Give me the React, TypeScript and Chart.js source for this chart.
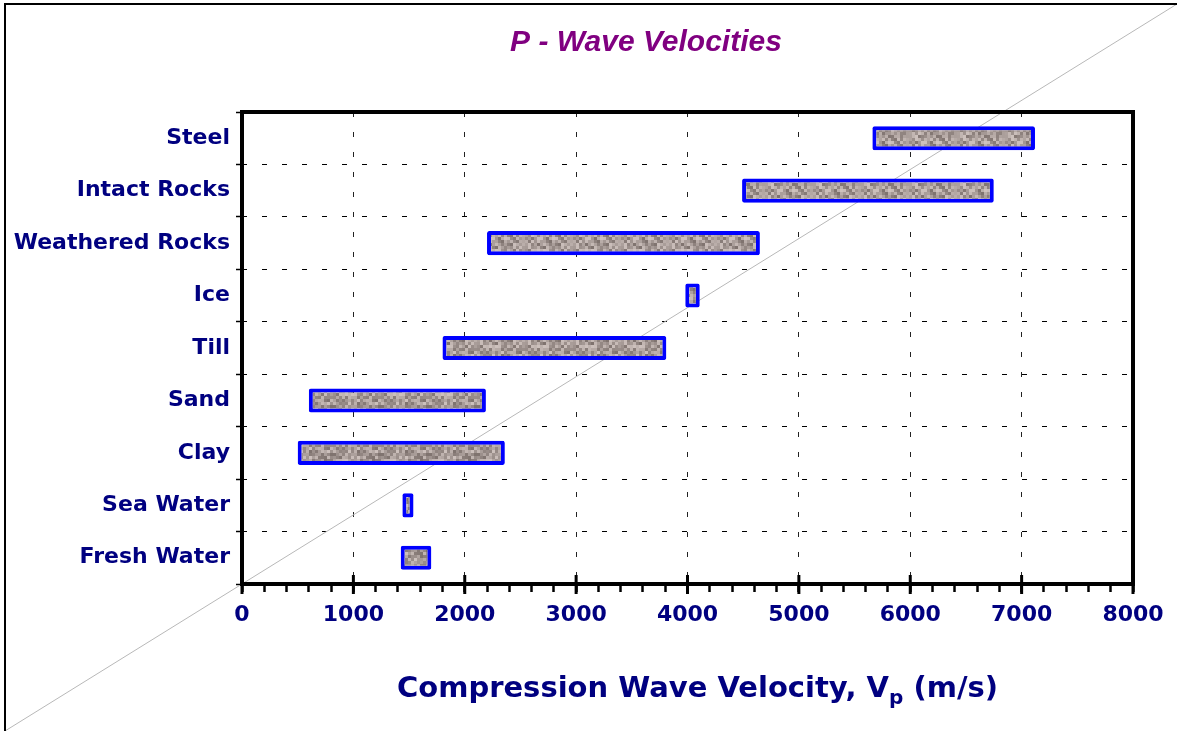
import React, { useEffect, useRef } from 'react';
import { Chart, registerables } from 'chart.js';

Chart.register(...registerables);

const categories = ['Steel', 'Intact Rocks', 'Weathered Rocks', 'Ice', 'Till', 'Sand', 'Clay', 'Sea Water', 'Fresh Water'];
const minVelocity = [5660, 4490, 2200, 3980, 1800, 600, 500, 1440, 1425];
const maxVelocity = [7120, 6750, 4650, 4110, 3810, 2190, 2360, 1540, 1700];
const xTickValues = [0, 1000, 2000, 3000, 4000, 5000, 6000, 7000, 8000];
const chartTitle = 'P - Wave Velocities';
const axisTitleMain = 'Compression Wave Velocity, V';
const axisTitleSub = 'p';
const axisTitleUnit = ' (m/s)';

const NAVY = '#000080';
const LABEL_FONT = '"DejaVu Sans", "Noto Sans", sans-serif';

function makeTexture(): CanvasPattern | string {
  const size = 48;
  const c = document.createElement('canvas');
  c.width = size;
  c.height = size;
  const g = c.getContext('2d');
  if (!g) return '#a89e98';
  for (let y = 0; y < size; y += 3) {
    for (let x = 0; x < size; x += 3) {
      let h = (Math.imul(x + 7, 374761393) + Math.imul(y + 3, 668265263)) | 0;
      h = Math.imul(h ^ (h >>> 13), 1274126177);
      h = (h ^ (h >>> 16)) >>> 0;
      const v = (h % 1000) / 1000;
      const d = Math.round((v - 0.5) * 80);
      g.fillStyle = `rgb(${166 + d},${154 + d},${150 + d})`;
      g.fillRect(x, y, 3, 3);
    }
  }
  return g.createPattern(c, 'repeat') ?? '#a89e98';
}

const decorPlugin = {
  id: 'decor',
  beforeDatasetsDraw(chart: any) {
    const { ctx, width, height } = chart;
    ctx.save();
    ctx.strokeStyle = '#b8b8b8';
    ctx.lineWidth = 1;
    ctx.beginPath();
    ctx.moveTo(5, height);
    ctx.lineTo(width, 4);
    ctx.stroke();
    ctx.restore();
  },
  afterDraw(chart: any) {
    const { ctx, chartArea: a, scales, width, height } = chart;
    const xs = scales.x;
    ctx.save();
    // outer frame
    ctx.strokeStyle = '#000';
    ctx.lineWidth = 2;
    ctx.beginPath();
    ctx.moveTo(5, height);
    ctx.lineTo(5, 4);
    ctx.lineTo(width, 4);
    ctx.stroke();
    // plot frame
    ctx.lineWidth = 4;
    ctx.strokeRect(a.left, a.top, a.right - a.left, a.bottom - a.top);
    // major ticks crossing the axis
    ctx.lineWidth = 3;
    xTickValues.forEach((v) => {
      const px = xs.getPixelForValue(v);
      ctx.beginPath();
      ctx.moveTo(px, a.bottom - 9);
      ctx.lineTo(px, a.bottom + 10);
      ctx.stroke();
    });
    // title
    ctx.fillStyle = '#800080';
    ctx.font = 'italic bold 30px "Liberation Sans", Arial, sans-serif';
    ctx.textAlign = 'center';
    ctx.textBaseline = 'alphabetic';
    ctx.fillText(chartTitle, 646, 51);
    // axis title with subscript
    ctx.fillStyle = NAVY;
    ctx.textAlign = 'left';
    const mainFont = `bold 29px ${LABEL_FONT}`;
    const subFont = `bold 20px ${LABEL_FONT}`;
    ctx.font = mainFont;
    const w1 = ctx.measureText(axisTitleMain).width;
    const w3 = ctx.measureText(axisTitleUnit).width;
    ctx.font = subFont;
    const w2 = ctx.measureText(axisTitleSub).width;
    const total = w1 + w2 + w3;
    const cx = (a.left + a.right) / 2 + 10;
    let x0 = cx - total / 2;
    const base = 697;
    ctx.font = mainFont;
    ctx.fillText(axisTitleMain, x0, base);
    x0 += w1;
    ctx.font = subFont;
    ctx.fillText(axisTitleSub, x0, base + 7);
    x0 += w2;
    ctx.font = mainFont;
    ctx.fillText(axisTitleUnit, x0, base);
    ctx.restore();
  },
};

export default function App() {
  const ref = useRef<HTMLCanvasElement | null>(null);

  useEffect(() => {
    if (!ref.current) return;
    const texture = makeTexture();
    const chart = new Chart(ref.current, {
      type: 'bar',
      data: {
        labels: categories,
        datasets: [
          {
            label: 'Velocity range',
            data: categories.map((_, i) => [minVelocity[i], maxVelocity[i]]) as any,
            backgroundColor: texture as any,
            borderColor: '#0000ff',
            borderWidth: 4,
            borderSkipped: false,
            borderRadius: 2,
            barPercentage: 0.46,
            categoryPercentage: 1,
          },
        ],
      },
      options: {
        indexAxis: 'y',
        animation: false,
        responsive: true,
        maintainAspectRatio: false,
        layout: { padding: { top: 112, right: 44, left: 0, bottom: 0 } },
        plugins: {
          legend: { display: false },
          tooltip: { enabled: false },
          title: { display: false },
        },
        scales: {
          x: {
            type: 'linear',
            min: 0,
            max: 8000,
            afterFit: (s: any) => {
              s.height = 147;
            },
            ticks: {
              stepSize: 200,
              autoSkip: false,
              maxRotation: 0,
              padding: 10,
              color: NAVY,
              font: { family: LABEL_FONT, weight: 'bold', size: 22 },
              callback: (v: any) => (xTickValues.includes(Number(v)) ? String(v) : ''),
            },
            grid: {
              color: (c: any) => (c.tick && xTickValues.includes(c.tick.value) ? '#222' : 'rgba(0,0,0,0)'),
              lineWidth: 1,
              tickColor: '#000',
              tickWidth: 2.5,
              tickLength: 8,
              tickBorderDash: [],
            },
            border: { display: false, dash: [5, 15] },
          },
          y: {
            afterFit: (s: any) => {
              s.width = 242;
            },
            ticks: {
              padding: 6,
              color: NAVY,
              font: { family: LABEL_FONT, weight: 'bold', size: 22 },
            },
            grid: {
              color: '#000',
              lineWidth: 1,
              tickColor: '#000',
              tickWidth: 1.5,
              tickLength: 6,
              tickBorderDash: [],
            },
            border: { display: false, dash: [5, 15] },
          },
        },
      },
      plugins: [decorPlugin],
    });
    return () => chart.destroy();
  }, []);

  return (
    <div style={{ position: 'absolute', left: 0, top: 0, width: 1177, height: 731, background: '#fff' }}>
      <canvas ref={ref} />
    </div>
  );
}
